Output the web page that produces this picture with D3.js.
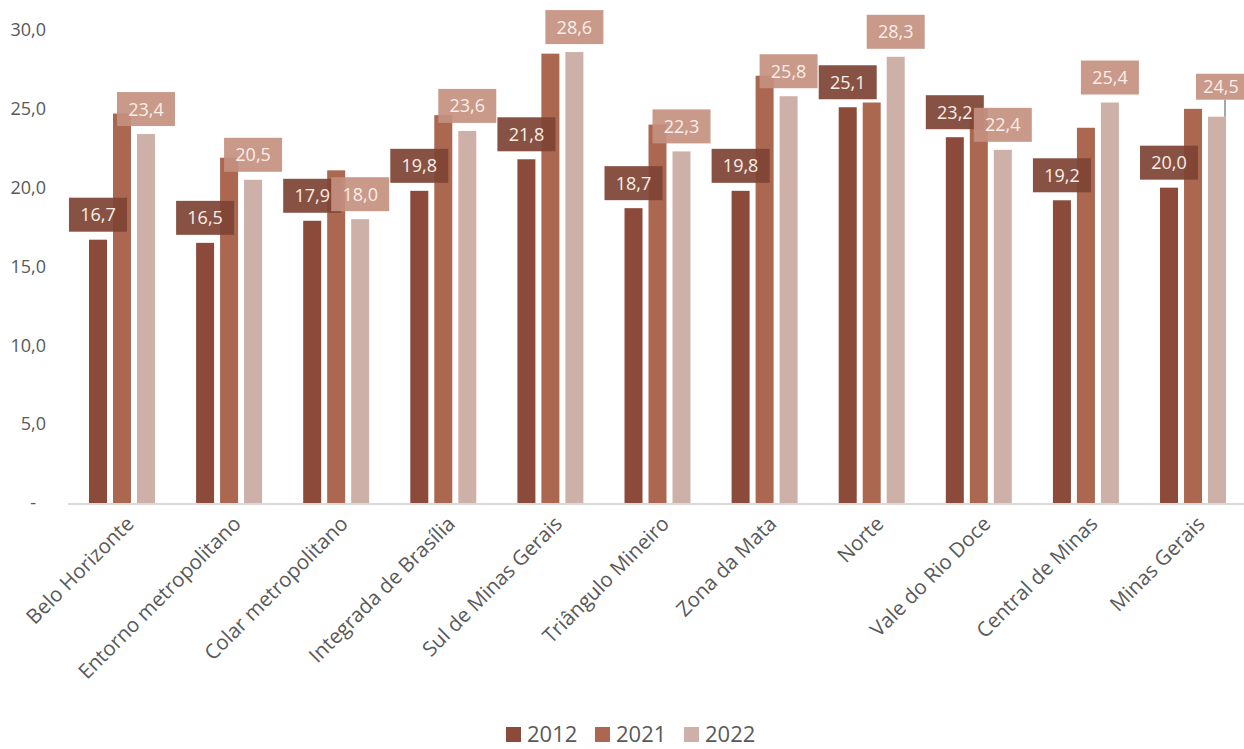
<!DOCTYPE html>
<html lang="pt">
<head>
<meta charset="UTF-8">
<script src="https://d3js.org/d3.v7.min.js"></script>
<title>Chart</title>
<style>
  body { margin: 0; background: #fff; }
  text { font-family: "Open Sans", sans-serif; }
</style>
</head>
<body>
<div id="my_chart"></div>
<script>
var categories = ["Belo Horizonte", "Entorno metropolitano", "Colar metropolitano",
    "Integrada de Brasília", "Sul de Minas Gerais", "Triângulo Mineiro", "Zona da Mata",
    "Norte", "Vale do Rio Doce", "Central de Minas", "Minas Gerais"];
var series = ["2012", "2021", "2022"];
var values2012 = [16.7, 16.5, 17.9, 19.8, 21.8, 18.7, 19.8, 25.1, 23.2, 19.2, 20.0];
var values2021 = [24.7, 21.9, 21.1, 24.6, 28.5, 24.0, 27.1, 25.4, 25.0, 23.8, 25.0];
var values2022 = [23.4, 20.5, 18.0, 23.6, 28.6, 22.3, 25.8, 28.3, 22.4, 25.4, 24.5];
var yTicks = [0, 5, 10, 15, 20, 25, 30];
var labelledSeries = ["2012", "2022"];

var W = 1244, H = 749;
var colors = { "2012": "#8b4a3a", "2021": "#ab6750", "2022": "#cdb0a8" };
var boxColors = { "2012": "#7d4333", "2022": "#c4907f" };

var svg = d3.select("#my_chart").append("svg")
    .attr("width", W).attr("height", H);

var x0 = d3.scaleBand().domain(categories).range([68, 1247])
    .paddingInner(0.384).paddingOuter(0.196);
var x1 = d3.scaleBand().domain(series).range([0, x0.bandwidth()]).paddingInner(0.25);
var y = d3.scaleLinear().domain([0, 30]).range([503, 30]);

var table = series.map(function (s, i) {
    var vals = [values2012, values2021, values2022][i];
    return categories.map(function (c, j) { return { s: s, c: c, v: vals[j], j: j }; });
});

// y tick labels
var fmt = function (d) { return d === 0 ? "-" : d.toFixed(1).replace(".", ","); };
svg.append("g").selectAll("text").data(yTicks).enter().append("text")
    .attr("x", function (d) { return d === 0 ? 36 : 46; })
    .attr("y", function (d) { return y(d); })
    .attr("dy", "0.35em")
    .attr("text-anchor", "end")
    .attr("font-size", 18)
    .attr("fill", "#595959")
    .text(fmt);

// bars
table.forEach(function (rows) {
    svg.append("g").selectAll("rect").data(rows).enter().append("rect")
        .attr("x", function (d) { return x0(d.c) + x1(d.s); })
        .attr("y", function (d) { return y(d.v); })
        .attr("width", x1.bandwidth())
        .attr("height", function (d) { return y(0) - y(d.v); })
        .attr("fill", function (d) { return colors[d.s]; });
});

// baseline
svg.append("line").attr("x1", 68).attr("x2", W)
    .attr("y1", y(0) + 1).attr("y2", y(0) + 1)
    .attr("stroke", "#d9d9d9").attr("stroke-width", 2);

// x labels
svg.append("g").selectAll("text").data(categories).enter().append("text")
    .attr("transform", function (d) {
        return "translate(" + (x0(d) + x0.bandwidth() / 2 + 8) + ",520) rotate(-45)";
    })
    .attr("text-anchor", "end")
    .attr("dy", "0.35em")
    .attr("font-size", 20.5)
    .attr("fill", "#595959")
    .text(function (d) { return d; });

// data labels
table.filter(function (rows) { return labelledSeries.indexOf(rows[0].s) >= 0; })
  .forEach(function (rows) {
    var g = svg.append("g").selectAll("g").data(rows).enter().append("g")
        .attr("transform", function (d) {
            var cx = x0(d.c) + x1(d.s) + x1.bandwidth() / 2;
            var cy = y(d.v) - 25;
            if (d.s === "2022" && d.c === "Minas Gerais") { cx += 4; cy -= 5; }
            return "translate(" + cx + "," + cy + ")";
        });
    g.each(function (d) {
        var el = d3.select(this);
        var small = d.s === "2022" && d.c === "Minas Gerais";
        var bw = small ? 50 : 58, bh = small ? 26 : 34;
        if (small) {
            el.append("line").attr("x1", 4).attr("x2", 4)
                .attr("y1", bh / 2).attr("y2", 30)
                .attr("stroke", "#a6a6a6").attr("stroke-width", 2);
        }
        el.append("rect")
            .attr("x", -bw / 2).attr("y", -bh / 2)
            .attr("width", bw).attr("height", bh)
            .attr("fill", boxColors[d.s]).attr("fill-opacity", 0.92);
        el.append("text")
            .attr("text-anchor", "middle").attr("dy", "0.36em")
            .attr("font-size", 18).attr("fill", "#fbeee8")
            .text(d.v.toFixed(1).replace(".", ","));
    });
});

// legend
var legend = svg.append("g").selectAll("g").data(series).enter().append("g")
    .attr("transform", function (d, i) { return "translate(" + (506 + i * 89) + ",727)"; });
legend.append("rect").attr("width", 15).attr("height", 15)
    .attr("fill", function (d) { return colors[d]; });
legend.append("text").attr("x", 21).attr("y", 15)
    .attr("font-size", 22).attr("fill", "#595959")
    .text(function (d) { return d; });
</script>
</body>
</html>
